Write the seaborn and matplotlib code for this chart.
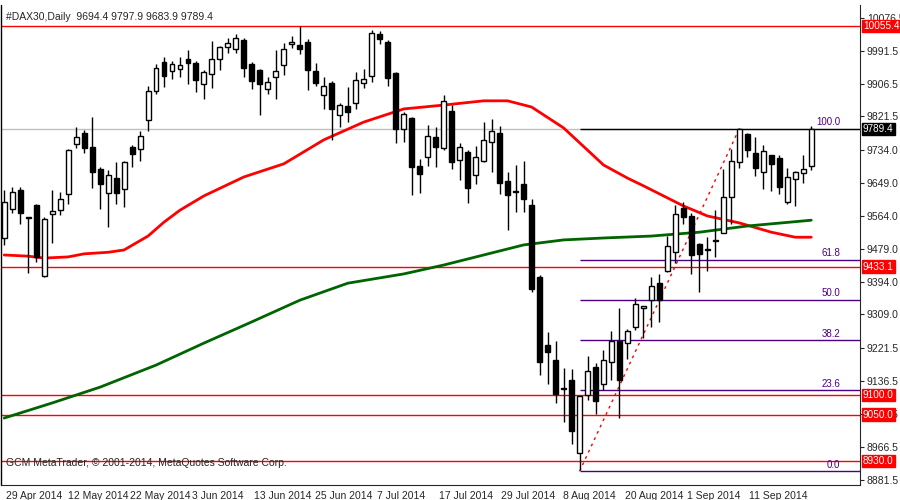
import matplotlib
matplotlib.use("Agg")
import matplotlib.pyplot as plt
import seaborn as sns
import pandas as pd
import numpy as np

# ============================================================
# DATA
# ============================================================

opens = [9507, 9582, 9631, 9559, 9592, 9408, 9569, 9579, 9621, 9750,
         9779, 9742, 9685, 9623, 9662, 9634, 9742, 9737, 9812, 9887,
         9962, 9939, 9944, 9970, 9960, 9906, 9931, 9970, 10001, 9996,
         10019, 9957, 9942, 9893, 9924, 9955, 10009, 10006, 10014, 9939,
         9877, 9908, 9825, 9849, 9856, 9908, 9926, 10035, 10014, 9934,
         9789, 9818, 9693, 9717, 9768, 9740, 9836, 9709, 9729, 9670,
         9706, 9755, 9779, 9654, 9626, 9647, 9592, 9406, 9230, 9191,
         9116, 9139, 8950, 9100, 9173, 9129, 9186, 9240, 9235, 9277,
         9326, 9346, 9390, 9422, 9471, 9584, 9564, 9491, 9476, 9499,
         9520, 9613, 9704, 9776, 9727, 9678, 9722, 9714, 9600, 9660,
         9675, 9694.4]
highs = [9631, 9639, 9639, 9561, 9595, 9561, 9631, 9626, 9737, 9794,
         9786, 9820, 9691, 9683, 9704, 9705, 9748, 9784, 9900, 9957,
         9975, 9965, 9975, 9994, 9965, 9942, 10017, 10004, 10025, 10035,
         10025, 9962, 9944, 9924, 9994, 10012, 10030, 10056, 10022, 9960,
         9924, 9913, 9856, 9898, 9937, 9944, 10045, 10043, 10019, 9936,
         9833, 9820, 9711, 9799, 9794, 9877, 9851, 9753, 9735, 9745,
         9807, 9815, 9797, 9678, 9696, 9706, 9608, 9411, 9263, 9240,
         9170, 9168, 9098, 9201, 9183, 9217, 9266, 9326, 9271, 9352,
         9331, 9406, 9414, 9512, 9592, 9600, 9572, 9494, 9509, 9579,
         9685, 9737, 9792, 9779, 9768, 9748, 9722, 9722, 9688, 9680,
         9722, 9797.9]
lows = [9489, 9572, 9543, 9416, 9445, 9406, 9494, 9566, 9595, 9740,
        9727, 9636, 9582, 9535, 9595, 9587, 9691, 9706, 9784, 9880,
        9898, 9918, 9924, 9906, 9885, 9867, 9895, 9942, 9986, 9986,
        9924, 9893, 9825, 9880, 9867, 9929, 9999, 9983, 9890, 9900,
        9841, 9761, 9794, 9807, 9841, 9895, 9911, 10009, 9900, 9753,
        9755, 9618, 9623, 9693, 9691, 9735, 9685, 9657, 9597, 9647,
        9704, 9678, 9621, 9528, 9574, 9574, 9367, 9152, 9129, 9080,
        9030, 8973, 8906, 9087, 9051, 9113, 9139, 9041, 9194, 9269,
        9248, 9277, 9289, 9419, 9442, 9543, 9414, 9367, 9422, 9458,
        9520, 9543, 9688, 9717, 9667, 9634, 9628, 9621, 9595, 9590,
        9649, 9683.9]
closes = [9600, 9626, 9572, 9559, 9458, 9556, 9577, 9608, 9735, 9768,
          9740, 9678, 9647, 9670, 9623, 9704, 9724, 9771, 9887, 9947,
          9926, 9957, 9955, 9960, 9916, 9937, 9970, 10001, 10012, 10025,
          9947, 9913, 9906, 9911, 9939, 9996, 10014, 9996, 9942, 9908,
          9900, 9841, 9851, 9833, 9916, 9918, 10038, 10022, 9921, 9789,
          9828, 9691, 9673, 9771, 9742, 9861, 9704, 9742, 9636, 9717,
          9761, 9784, 9649, 9618, 9626, 9608, 9375, 9186, 9212, 9103,
          9116, 9007, 9098, 9162, 9085, 9191, 9240, 9139, 9266, 9336,
          9331, 9383, 9346, 9486, 9569, 9561, 9463, 9465, 9476, 9499,
          9613, 9706, 9789, 9735, 9688, 9732, 9698, 9639, 9665, 9678,
          9685, 9789.4]

# moving averages read at selected bars
ma_red_bars = [0, 3, 5, 8, 10, 13, 15, 18, 20, 22, 25, 30, 35, 40, 45, 50, 55,
               60, 63, 66, 70, 75, 78, 80, 85, 88, 92, 96, 99, 101]
ma_red_vals = [9463, 9460, 9455, 9458, 9466, 9470, 9476, 9512, 9548, 9579,
               9616, 9665, 9699, 9761, 9807, 9841, 9851, 9862, 9862, 9846,
               9792, 9696, 9662, 9642, 9590, 9564, 9546, 9522, 9509, 9509]
ma_green_bars = [0, 6, 12, 19, 25, 31, 37, 43, 50, 55, 60, 65, 70, 75, 81, 87,
                 93, 101]
ma_green_vals = [9041, 9080, 9121, 9178, 9235, 9290, 9346, 9390, 9414, 9437,
                 9463, 9489, 9502, 9507, 9512, 9522, 9538, 9553]

red_levels = [10055.4, 9433.1, 9100.0, 9050.0, 8930.0]
last_price = 9789.4
fib_start, fib_end = 72, 92
fib_low, fib_high = 8903, 9790
fib_pcts = [0.0, 23.6, 38.2, 50.0, 61.8, 100.0]

y_ticks = [10076.5, 9991.5, 9906.5, 9821.5, 9734.0, 9649.0, 9564.0, 9479.0,
           9394.0, 9309.0, 9221.5, 9136.5, 9051.5, 8966.5, 8881.5]
date_labels = ["29 Apr 2014", "12 May 2014", "22 May 2014", "3 Jun 2014",
               "13 Jun 2014", "25 Jun 2014", "7 Jul 2014", "17 Jul 2014",
               "29 Jul 2014", "8 Aug 2014", "20 Aug 2014", "1 Sep 2014",
               "11 Sep 2014"]

# ============================================================
# PLOT
# ============================================================

sns.set_style("white")
plt.rcParams["font.family"] = ["Liberation Sans", "DejaVu Sans"]

fig = plt.figure(figsize=(9, 5), dpi=100)
ax = fig.add_axes([1 / 900, 15 / 500, 859 / 900, 480 / 500])

df = pd.DataFrame({"o": opens, "h": highs, "l": lows, "c": closes})
df["bar"] = np.arange(len(df))

ax.set_xlim(-0.4, 107.1)
ax.set_ylim(8867.7, 10110)

# horizontal levels
ax.axhline(last_price, color="#c0c0c0", lw=1, zorder=1)
for lv in red_levels:
    ax.axhline(lv, color="red", lw=1, zorder=1)

# fibonacci
purple = "#4b0082"
for p in fib_pcts:
    v = fib_low + (fib_high - fib_low) * p / 100
    ax.hlines(v, fib_start, 107.1, color="black" if p == 100 else purple, lw=1, zorder=1)
    ax.text(104.6, v + 4, f"{p:.1f}", ha="right", va="bottom", fontsize=7, color=purple)
ax.plot([fib_start, fib_end], [fib_low, fib_high], color="red", lw=1, ls=(0, (2, 3)), zorder=2)

# moving averages
sns.lineplot(x=ma_red_bars, y=ma_red_vals, color="red", lw=2, ax=ax, zorder=3)
sns.lineplot(x=ma_green_bars, y=ma_green_vals, color="#006400", lw=2, ax=ax, zorder=3)

# candles
ax.vlines(df["bar"], df["l"], df["h"], color="black", lw=1, zorder=4)
bottom = df[["o", "c"]].min(axis=1)
height = (df["c"] - df["o"]).abs().clip(lower=1.5)
up = df["c"] >= df["o"]
ax.bar(df["bar"][up], height[up], bottom=bottom[up], width=0.62,
       color="white", edgecolor="black", lw=1, zorder=5)
ax.bar(df["bar"][~up], height[~up], bottom=bottom[~up], width=0.62,
       color="black", edgecolor="black", lw=1, zorder=5)

# axes styling
for s in ["top", "left"]:
    ax.spines[s].set_visible(False)
ax.plot([0, 0], [0, 1], transform=ax.transAxes, color="black", lw=1, clip_on=False)
ax.yaxis.tick_right()
ax.set_yticks(y_ticks)
ax.set_yticklabels([f"{t:.1f}" for t in y_ticks], fontsize=7.5)
ax.tick_params(axis="y", length=3, pad=2)
ax.set_xticks([0.2 + 7.75 * k for k in range(len(date_labels))])
ax.set_xticklabels(date_labels, fontsize=7.5, ha="left")
ax.tick_params(axis="x", length=3, pad=1)

# price boxes on the right scale (drawn over the tick labels, as in MetaTrader)
for lv, fc in [(v, "red") for v in red_levels] + [(last_price, "black")]:
    ax.text(107.45, lv, f"{lv:.1f}", fontsize=7.2, color="white",
            va="center", ha="left", clip_on=False, zorder=10,
            bbox=dict(boxstyle="square,pad=0.12", fc=fc, ec=fc))

ax.text(0.006, 0.985, "#DAX30,Daily  9694.4 9797.9 9683.9 9789.4", transform=ax.transAxes,
        fontsize=7.5, va="top", ha="left")
ax.text(0.006, 0.035, "GCM MetaTrader, © 2001-2014, MetaQuotes Software Corp.",
        transform=ax.transAxes, fontsize=7.5, va="bottom", ha="left")

fig.savefig("out.png", dpi=100)
